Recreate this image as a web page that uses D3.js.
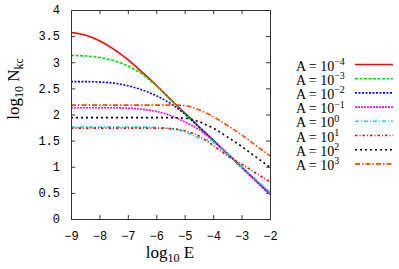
<!DOCTYPE html>
<html>
<head>
<meta charset="utf-8">
<script src="https://cdn.jsdelivr.net/npm/d3@7"></script>
<style>
  html, body { margin: 0; padding: 0; background: #fff; }
  svg { display: block; }
</style>
</head>
<body>
<svg id="chart" width="399" height="269"></svg>
<script>
// ---- data ----
const xValues = [-9, -8.5, -8, -7.5, -7, -6.5, -6, -5.5, -5, -4.5, -4, -3.5, -3, -2.5, -2];
const seriesLabels = ["−4", "−3", "−2", "−1", "0", "1", "2", "3"];
const sA4 = [3.57, 3.52, 3.41, 3.25, 3.05, 2.81, 2.56, 2.29, 2.03, 1.77, 1.51, 1.25, 1.00, 0.74, 0.48];
const sA3 = [3.13, 3.12, 3.09, 3.03, 2.93, 2.77, 2.55, 2.28, 2.02, 1.76, 1.50, 1.24, 0.99, 0.73, 0.47];
const sA2 = [2.63, 2.63, 2.62, 2.60, 2.55, 2.47, 2.36, 2.21, 2.01, 1.76, 1.51, 1.25, 0.99, 0.73, 0.47];
const sA1 = [2.13, 2.13, 2.13, 2.13, 2.12, 2.10, 2.06, 1.98, 1.86, 1.71, 1.50, 1.25, 0.99, 0.73, 0.47];
const sA0 = [1.76, 1.76, 1.76, 1.76, 1.76, 1.76, 1.75, 1.73, 1.67, 1.55, 1.47, 1.24, 1.00, 0.76, 0.51];
const sB1 = [1.74, 1.74, 1.74, 1.74, 1.74, 1.74, 1.74, 1.73, 1.69, 1.59, 1.41, 1.21, 1.05, 0.88, 0.71];
const sB2 = [1.94, 1.94, 1.94, 1.94, 1.94, 1.94, 1.94, 1.94, 1.93, 1.86, 1.74, 1.57, 1.39, 1.19, 0.99];
const sB3 = [2.18, 2.18, 2.18, 2.18, 2.18, 2.18, 2.18, 2.18, 2.17, 2.09, 1.96, 1.79, 1.61, 1.41, 1.21];
const seriesValues = [sA4, sA3, sA2, sA1, sA0, sB1, sB2, sB3];
const xTicks = [-9, -8, -7, -6, -5, -4, -3, -2];
const yTicks = [0, 0.5, 1, 1.5, 2, 2.5, 3, 3.5, 4];

// ---- styles ----
const colors = ["#ff0000", "#00dd00", "#0000ff", "#ff00ff", "#00e0e0", "#ff0000", "#000000", "#ff4500"];
const dashes = [null, "3,1.5", "2,1.5", "2,1", "4,2,1,2", "2.5,2,1,2", "2,3", "5,2,1.5,2"];

const svg = d3.select("#chart");
const L = 71, R = 270, T = 10, B = 219;
const x = d3.scaleLinear().domain([-9, -2]).range([L, R]);
const y = d3.scaleLinear().domain([0, 4]).range([B, T]);

const tickFont = "'Liberation Mono', 'DejaVu Sans Mono', monospace";
const serif = "'Liberation Serif', 'DejaVu Serif', serif";

function styleAxis(g) {
  g.select(".domain").remove();
  g.selectAll(".tick line").attr("stroke", "#333");
  g.selectAll(".tick text").attr("font-family", tickFont).attr("font-size", 12).attr("fill", "#000");
}

const fmt = d => (d < 0 ? "−" + String(-d) : String(d));

svg.append("g").attr("transform", `translate(0,${B})`)
  .call(d3.axisBottom(x).tickValues(xTicks).tickSize(-4).tickPadding(12).tickFormat(fmt))
  .call(styleAxis);
svg.append("g").attr("transform", `translate(0,${T})`)
  .call(d3.axisTop(x).tickValues(xTicks).tickSize(-4).tickFormat(""))
  .call(styleAxis);
svg.append("g").attr("transform", `translate(${L},0)`)
  .call(d3.axisLeft(y).tickValues(yTicks).tickSize(-4).tickPadding(11).tickFormat(fmt))
  .call(styleAxis);
svg.append("g").attr("transform", `translate(${R},0)`)
  .call(d3.axisRight(y).tickValues(yTicks).tickSize(-4).tickFormat(""))
  .call(styleAxis);

// ---- lines ----
const line = d3.line().x(d => x(d[0])).y(d => y(d[1])).curve(d3.curveMonotoneX);
const plot = svg.append("g");
seriesValues.forEach((vals, i) => {
  plot.append("path")
    .datum(xValues.map((xv, j) => [xv, vals[j]]))
    .attr("fill", "none")
    .attr("stroke", colors[i])
    .attr("stroke-width", 1.6)
    .attr("stroke-dasharray", dashes[i])
    .attr("d", line);
});

// frame
svg.append("rect")
  .attr("x", L + 0.5).attr("y", T + 0.5)
  .attr("width", R - L).attr("height", B - T)
  .attr("fill", "none").attr("stroke", "#333").attr("stroke-width", 1);

// ---- legend ----
const leg = svg.append("g");
seriesLabels.forEach((lab, i) => {
  const base = 70.5 + i * 14.2;
  const t = leg.append("text")
    .attr("x", 296).attr("y", base)
    .attr("font-family", serif).attr("font-size", 14).attr("fill", "#000");
  t.append("tspan").text("A = 10");
  t.append("tspan").attr("dy", -5.5).attr("font-size", 10).text(lab);
  leg.append("line")
    .attr("x1", 355).attr("x2", 393)
    .attr("y1", base - 6).attr("y2", base - 6)
    .attr("stroke", colors[i]).attr("stroke-width", 1.6)
    .attr("stroke-dasharray", dashes[i]);
});

// ---- axis titles ----
const xt = svg.append("text")
  .attr("x", 170).attr("y", 258).attr("text-anchor", "middle")
  .attr("font-family", serif).attr("font-size", 17);
xt.append("tspan").text("log");
xt.append("tspan").attr("dy", 4).attr("font-size", 12).text("10");
xt.append("tspan").attr("dy", -4).text(" E");

const yt = svg.append("text")
  .attr("transform", "translate(19,89) rotate(-90)")
  .attr("text-anchor", "middle")
  .attr("font-family", serif).attr("font-size", 17);
yt.append("tspan").text("log");
yt.append("tspan").attr("dy", 4).attr("font-size", 12).text("10");
yt.append("tspan").attr("dy", -4).text(" N");
yt.append("tspan").attr("dy", 4).attr("font-size", 12).text("kc");
</script>
</body>
</html>
